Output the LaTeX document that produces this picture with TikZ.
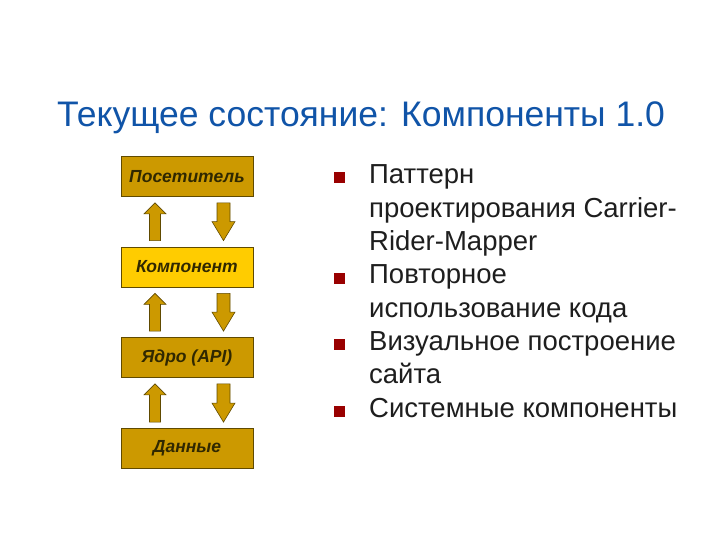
\documentclass[tikz,border=0pt]{standalone}
\usepackage{fontspec}
\setmainfont{Liberation Sans}
\usetikzlibrary{calc}
\definecolor{titleblue}{RGB}{16,84,168}
\definecolor{ochre}{RGB}{204,153,0}
\definecolor{gold}{RGB}{255,204,0}
\definecolor{edge}{RGB}{96,74,0}
\definecolor{boxtext}{RGB}{48,40,0}
\definecolor{bulred}{RGB}{153,0,0}
\definecolor{body}{RGB}{30,30,30}
\newcommand{\lines}[1]{\begin{tabular}[t]{@{}l@{}}#1\end{tabular}}

\begin{document}
\begin{tikzpicture}[x=1bp, y=-1bp,
  layer/.style={draw=edge, line width=0.8bp, fill=ochre, minimum width=132bp,
                minimum height=40bp, inner sep=0pt, text=boxtext,
                font=\fontsize{17.5bp}{20bp}\selectfont\bfseries\itshape},
  hot/.style={layer, fill=gold},
  blk/.style={draw=edge, line width=0.6bp, fill=ochre},
  item/.style={anchor=base west, inner sep=0pt, text=body,
               font=\fontsize{27.5bp}{33.3bp}\selectfont},
  bul/.style={fill=bulred, minimum size=11bp, inner sep=0pt}]
  \useasboundingbox[fill=white] (0,0) rectangle (720,540);
  \node[anchor=base west, inner sep=0pt, text=titleblue,
        font=\fontsize{35.5bp}{40bp}\selectfont] (title) at (57,127)
        {Текущее состояние: Компоненты 1.0};
  % layers
  \node[layer] (posit) at (187,176.5) {Посетитель};
  \node[hot]   (komp)  at (187,267)   {Компонент};
  \node[layer] (yadro) at (187,357.5) {Ядро (API)};
  \node[layer] (dann)  at (187,448.5) {Данные};
  % block arrows between layers
  \foreach \hi/\lo in {posit/komp, komp/yadro, yadro/dann} {
    \coordinate (ua) at ($(\lo.north)+(-32,-6)$);
    \coordinate (ub) at ($(\hi.south)+(-32,6)$);
    \draw[blk] ($(ua)+(-5.5,0)$) -- ($(ub)+(-5.5,11)$) -- ($(ub)+(-11,11)$) -- (ub)
      -- ($(ub)+(11,11)$) -- ($(ub)+(5.5,11)$) -- ($(ua)+(5.5,0)$) -- cycle;
    \coordinate (da) at ($(\hi.south)+(36.5,6)$);
    \coordinate (db) at ($(\lo.north)+(36.5,-6)$);
    \draw[blk] ($(da)+(-6.5,0)$) -- ($(db)+(-6.5,-19)$) -- ($(db)+(-11.5,-19)$) -- (db)
      -- ($(db)+(11.5,-19)$) -- ($(db)+(6.5,-19)$) -- ($(da)+(6.5,0)$) -- cycle;
  }
  % bullet list
  \node[item] (it1) at (369,184)   {\lines{Паттерн\\проектирования Carrier-\\Rider-Mapper}};
  \node[item] (it2) at (369,284)   {\lines{Повторное\\использование кода}};
  \node[item] (it3) at (369,350.5) {\lines{Визуальное построение\\сайта}};
  \node[item] (it4) at (369,417)   {\lines{Системные компоненты}};
  \node[bul] (b1) at (339.5,178)   {};
  \node[bul] (b2) at (339.5,278)   {};
  \node[bul] (b3) at (339.5,344.5) {};
  \node[bul] (b4) at (339.5,411)   {};
\end{tikzpicture}
\end{document}
